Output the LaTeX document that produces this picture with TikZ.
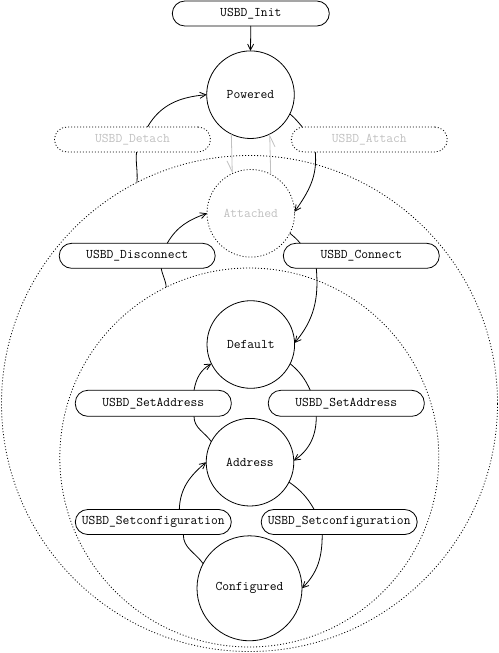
\documentclass[tikz,border=0pt]{standalone}
\usetikzlibrary{arrows.meta}
\definecolor{faint}{RGB}{192,192,192}
\begin{document}
\begin{tikzpicture}[x=1pt,y=-1pt,line width=0.8pt,
  state/.style={circle,draw,minimum size=87.6pt,inner sep=0pt,outer sep=0pt},
  evt/.style={rectangle,draw,rounded corners=12.5pt,minimum width=156pt,minimum height=25pt,inner sep=0pt,outer sep=0pt},
  dots/.style={dash pattern=on 1pt off 2pt},
  ghost/.style={text=faint},
  tip/.style={-{Straight Barb[length=6pt,width=6pt]}},
  half/.style={faint,-{Straight Barb[harpoon,swap,length=11pt,width=10pt]}},
  font=\fontsize{13.2}{15}\selectfont\ttfamily]
\useasboundingbox (0,0) rectangle (498,653);
% superstate boundaries
\node[circle,draw,dots,minimum size=496pt,inner sep=0pt,outer sep=0pt] (outer) at (249.5,403.5) {};
\node[circle,draw,dots,minimum size=379pt,inner sep=0pt,outer sep=0pt] (inner) at (249.3,457.5) {};
% states
\node[state] (pow) at (250.5,94.7) {Powered};
\node[state,dots,ghost] (attd) at (250.8,213.3) {Attached};
\node[state] (def) at (250.8,344.5) {Default};
\node[state] (addr) at (250,462.2) {Address};
\node[state,minimum size=105pt] (conf) at (249.5,588.3) {Configured};
% events
\node[evt,minimum width=157pt] (init) at (250.8,13.5) {USBD\_Init};
\node[evt,dots,ghost] (det) at (132.5,139.5) {USBD\_Detach};
\node[evt,dots,ghost] (att) at (369.3,139.5) {USBD\_Attach};
\node[evt] (dis) at (137.2,255.8) {USBD\_Disconnect};
\node[evt] (con) at (361.3,255.8) {USBD\_Connect};
\node[evt,minimum height=26pt] (sal) at (153.3,403.3) {USBD\_SetAddress};
\node[evt,minimum height=26pt] (sar) at (346.3,403.3) {USBD\_SetAddress};
\node[evt] (scl) at (153.3,522) {USBD\_Setconfiguration};
\node[evt] (scr) at (339.2,522) {USBD\_Setconfiguration};
% connectors
\draw[tip] (init.south) -- (pow.north);
\draw[half] (pow.244.6) -- (attd.115.6);
\draw[half] (attd.63.7) -- (pow.296.8);
\draw (outer.117) to[out=85,in=-95] ([xshift=4pt]det.south);
\draw[tip] ([xshift=15pt]det.north) to[out=60,in=185] (pow.180);
\draw (pow.-26) to[out=-40,in=130] ([xshift=-67pt]att.north);
\draw[tip] ([xshift=-54pt]att.south) to[out=-85,in=55] (attd.2);
\draw (inner.116) to[out=95,in=-80] ([xshift=24pt]dis.south);
\draw[tip] ([xshift=30pt]dis.north) to[out=60,in=200] (attd.180);
\draw (attd.-27) to[out=-40,in=130] ([xshift=-61pt]con.north);
\draw[tip] ([xshift=-45pt]con.south) to[out=-85,in=50] (def.2);
\draw (addr.152) to[out=125,in=-90] ([xshift=40.7pt]sal.south);
\draw[tip] ([xshift=40.7pt]sal.north) to[out=80,in=210] (def.206);
\draw (def.-26) to[out=-40,in=115] ([xshift=-36pt]sar.north);
\draw[tip] ([xshift=-30pt]sar.south) to[out=-90,in=35] (addr.2);
\draw (conf.152) to[out=125,in=-90] ([xshift=30pt]scl.south);
\draw[tip] ([xshift=26pt]scl.north) to[out=88,in=220] (addr.180);
\draw (addr.-27) to[out=-35,in=120] ([xshift=-25pt]scr.north);
\draw[tip] ([xshift=-17pt]scr.south) to[out=-90,in=45] (conf.0);
\end{tikzpicture}
\end{document}
